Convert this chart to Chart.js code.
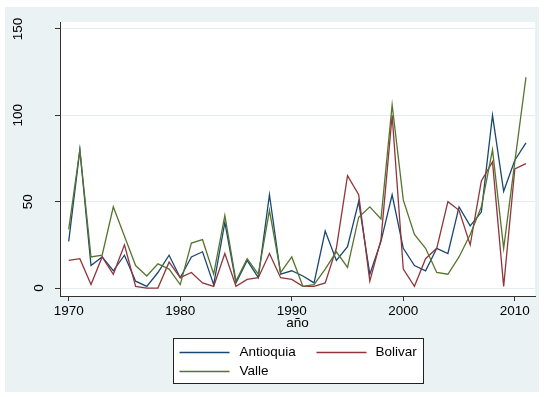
<!DOCTYPE html>
<html>
<head>
<meta charset="utf-8">
<script src="https://cdn.jsdelivr.net/npm/chart.js@4.4.0/dist/chart.umd.min.js"></script>
<style>
  html, body { margin: 0; padding: 0; background: #fff; }
  #wrap { width: 544px; height: 397px; }
</style>
</head>
<body>
<div id="wrap"><canvas id="chart" width="544" height="397"></canvas></div>
<script>
// data
const years = [1970, 1971, 1972, 1973, 1974, 1975, 1976, 1977, 1978, 1979,
               1980, 1981, 1982, 1983, 1984, 1985, 1986, 1987, 1988, 1989,
               1990, 1991, 1992, 1993, 1994, 1995, 1996, 1997, 1998, 1999,
               2000, 2001, 2002, 2003, 2004, 2005, 2006, 2007, 2008, 2009,
               2010, 2011];
const antioquia = [27, 80, 13, 18, 10, 19, 4, 1, 9, 19,
                   6, 18, 21, 2, 38, 3, 16, 6, 54, 8,
                   10, 7, 3, 33, 16, 24, 50, 8, 27, 54,
                   23, 13, 10, 23, 20, 47, 36, 44, 100, 56,
                   74, 84];
const bolivar = [16, 17, 2, 18, 8, 25, 1, 0, 0, 15,
                 6, 9, 3, 1, 20, 1, 5, 6, 20, 6,
                 5, 1, 1, 3, 23, 65, 54, 4, 28, 100,
                 11, 1, 17, 23, 50, 45, 25, 62, 73, 1,
                 69, 72];
const valle = [34, 80, 18, 19, 47, 30, 13, 7, 14, 11,
               2, 26, 28, 8, 42, 4, 17, 8, 45, 9,
               18, 1, 2, 11, 21, 12, 41, 47, 40, 106,
               51, 31, 23, 9, 8, 18, 31, 47, 80, 23,
               73, 122];
const xTicks = [1970, 1980, 1990, 2000, 2010];
const yTicks = [0, 50, 100, 150];
const seriesNames = ['Antioquia', 'Bolivar', 'Valle'];
const seriesValues = [antioquia, bolivar, valle];
const seriesColors = ['#1a476f', '#90353b', '#55752f'];

const FONT = '"Liberation Sans", Arial, Helvetica, sans-serif';
const fontSpec = { family: FONT, size: 13.5 };

// stata-ish background: light graph region, white plot region
const backdrop = {
  id: 'backdrop',
  beforeDraw(chart) {
    const { ctx, chartArea: a, width, height } = chart;
    ctx.save();
    ctx.fillStyle = '#fff';
    ctx.fillRect(0, 0, width, height);
    ctx.fillStyle = '#eaf2f3';
    ctx.fillRect(5, 7, 534, 385);
    ctx.fillStyle = '#fff';
    ctx.fillRect(a.left, a.top, a.right - a.left, a.bottom - a.top);
    ctx.restore();
  }
};

// rotated y tick labels
const yLabels = {
  id: 'yLabels',
  afterDraw(chart) {
    const { ctx } = chart;
    const ys = chart.scales.y;
    ctx.save();
    ctx.font = '13.5px ' + FONT;
    ctx.fillStyle = '#000';
    ys.ticks.forEach(t => {
      const label = String(t.value);
      const w = ctx.measureText(label).width;
      const y = ys.getPixelForValue(t.value);
      const x = ys.right - 10.5 - 1.4 * w;
      ctx.save();
      ctx.translate(x, y);
      ctx.rotate(-Math.PI / 2);
      ctx.textAlign = 'center';
      ctx.textBaseline = 'middle';
      ctx.fillText(label, 0, 0);
      ctx.restore();
    });
    ctx.restore();
  }
};

// boxed legend, two columns
const boxLegend = {
  id: 'boxLegend',
  afterDraw(chart) {
    const { ctx, chartArea: a } = chart;
    const cx = (a.left + a.right) / 2;
    const bx = Math.round(cx - 125) + 0.5, by = 338.5, bw = 250, bh = 45;
    ctx.save();
    ctx.fillStyle = '#fff';
    ctx.fillRect(bx, by, bw, bh);
    ctx.strokeStyle = '#222';
    ctx.lineWidth = 1;
    ctx.strokeRect(bx, by, bw, bh);
    ctx.font = '13.5px ' + FONT;
    ctx.textBaseline = 'middle';
    ctx.textAlign = 'left';
    seriesNames.forEach((name, i) => {
      const col = i % 2, row = Math.floor(i / 2);
      const lx = bx + 6 + col * 137;
      const ly = by + 14 + row * 19;
      ctx.strokeStyle = seriesColors[i];
      ctx.lineWidth = 1.3;
      ctx.beginPath();
      ctx.moveTo(lx, ly);
      ctx.lineTo(lx + 50, ly);
      ctx.stroke();
      ctx.fillStyle = '#000';
      ctx.fillText(name, lx + 60 - col * 1, ly);
    });
    ctx.restore();
  }
};

const datasets = seriesNames.map((name, i) => ({
  label: name,
  data: years.map((yr, j) => ({ x: yr, y: seriesValues[i][j] })),
  borderColor: seriesColors[i],
  borderWidth: 1.3,
  pointRadius: 0,
  tension: 0,
  fill: false,
  order: seriesNames.length - i
}));

new Chart(document.getElementById('chart'), {
  type: 'line',
  data: { datasets },
  options: {
    responsive: false,
    animation: false,
    layout: { padding: { top: 22, right: 9, left: 0, bottom: 0 } },
    plugins: { legend: { display: false }, tooltip: { enabled: false } },
    scales: {
      x: {
        type: 'linear',
        min: 1969.22,
        max: 2011.81,
        afterBuildTicks: s => { s.ticks = xTicks.map(v => ({ value: v })); },
        afterFit: s => { s.height = 101; },
        grid: { drawOnChartArea: false, tickLength: 5, tickColor: '#333' },
        border: { color: '#333', width: 1 },
        ticks: { color: '#000', font: fontSpec, padding: 2, maxRotation: 0, autoSkip: false,
                 callback: v => String(v) },
        title: { display: true, text: 'año', color: '#000', font: fontSpec,
                 padding: { top: 0, bottom: 66 } }
      },
      y: {
        min: -4.6,
        max: 154,
        afterBuildTicks: s => { s.ticks = yTicks.map(v => ({ value: v })); },
        afterFit: s => { s.width = 60; },
        grid: { color: '#e4eef0', lineWidth: 1, tickLength: 5, tickColor: '#333' },
        border: { color: '#333', width: 1 },
        ticks: { display: false }
      }
    }
  },
  plugins: [backdrop, yLabels, boxLegend]
});
</script>
</body>
</html>
